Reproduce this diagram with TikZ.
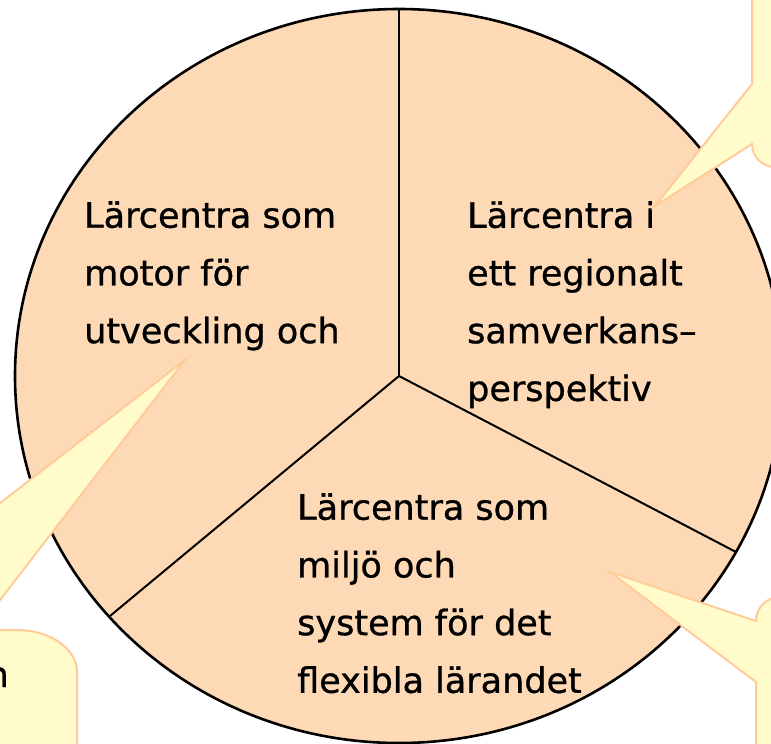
\documentclass[tikz,border=0pt]{standalone}
\usepackage{fontspec}
\setmainfont{DejaVu Sans}[BoldFont=DejaVu Sans, BoldFeatures={FakeBold=0.9}]
\definecolor{peach}{RGB}{253,218,181}
\definecolor{notefill}{RGB}{255,251,203}
\definecolor{noteline}{RGB}{255,204,153}
\begin{document}
\begin{tikzpicture}[x=1pt, y=-1pt,
    sector/.style={anchor=north west, align=left, inner sep=0pt,
      font=\fontsize{35}{57.7}\selectfont\bfseries},
    note/.style={fill=notefill, draw=noteline, line width=2pt}]
  \useasboundingbox (0, 0) rectangle (771, 744);
  \clip (0, 0) rectangle (771, 744);

  % Circle
  \coordinate (hub) at (399, 376);
  \draw [fill=peach, line width=2.6pt] (hub) ellipse [x radius=384, y radius=367];

  % Spokes
  \coordinate (top) at (399, 9);
  \coordinate (lowleft) at (110, 616);
  \coordinate (lowright) at (736, 552);
  \draw [line width=2pt] (hub) -- (top);
  \draw [line width=2pt] (hub) -- (lowleft);
  \draw [line width=2pt] (hub) -- (lowright);

  % Sector texts
  \node (motor) [sector] at (84, 201) {Lärcentra som\\motor för\\utveckling och};
  \node (region) [sector] at (467, 201)
        {Lärcentra i\\ett regionalt\\samverkans–\\perspektiv};
  \node (milieu) [sector] at (297, 493)
        {Lärcentra som\\miljö och\\system för det\\flexibla lärandet};

  % Callout top right
  \coordinate (tiptr) at (655, 206);
  \draw [note] (800, -10) -- (752, -10) -- (752, 84) -- (tiptr) -- (752, 144)
        arc [start angle=180, end angle=90, radius=23] -- (800, 167) -- cycle;

  % Callout bottom left
  \coordinate (tipbl) at (185, 360);
  \draw [note] (-250, 630) -- (-164, 630) -- (tipbl) -- (-23, 630) -- (17, 630)
        arc [start angle=-90, end angle=0, x radius=60, y radius=42]
        -- (77, 780) -- (-250, 780) -- cycle;
  \node (cutword) [anchor=base east, inner sep=0pt,
        font=\fontsize{35}{57.7}\selectfont\bfseries] at (9, 687) {n};

  % Callout bottom right
  \coordinate (tipbr) at (610, 572);
  \draw [note] (756, 780) -- (756, 682) -- (tipbr) -- (756, 621)
        arc [start angle=180, end angle=270, radius=24] -- (800, 597)
        -- (800, 780) -- cycle;
\end{tikzpicture}
\end{document}
